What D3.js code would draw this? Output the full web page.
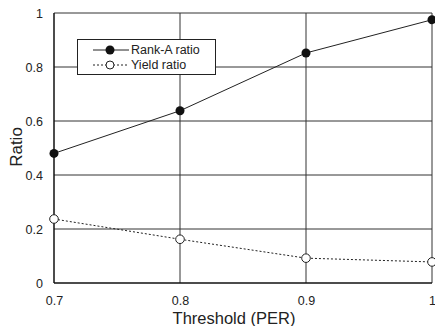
<!DOCTYPE html>
<html><head><meta charset="utf-8">
<script src="https://cdn.jsdelivr.net/npm/d3@7"></script>
<style>body{margin:0;background:#fff}svg{display:block}text{font-family:"Liberation Sans",Arial,sans-serif;fill:#222}</style>
</head><body><svg id="c" width="435" height="326"></svg>
<script>
const thresholds = [0.7, 0.8, 0.9, 1.0];
const rankA = [0.48, 0.638, 0.852, 0.975];
const yieldRatio = [0.237, 0.162, 0.092, 0.078];
const xTicks = [0.7, 0.8, 0.9, 1];
const yTicks = [0, 0.2, 0.4, 0.6, 0.8, 1];
const seriesNames = ["Rank-A ratio", "Yield ratio"];

const svg = d3.select("#c");
const L = 54, R = 432, T = 13, B = 283;
const x = d3.scaleLinear().domain([0.7, 1]).range([L, R]);
const y = d3.scaleLinear().domain([0, 1]).range([B, T]);

// gridlines
svg.append("g").selectAll("line").data(yTicks.slice(1)).join("line")
  .attr("x1", L).attr("x2", R).attr("y1", d => y(d)).attr("y2", d => y(d))
  .attr("stroke", "#333").attr("stroke-width", 1);
svg.append("g").selectAll("line").data(xTicks.slice(1)).join("line")
  .attr("y1", T).attr("y2", B).attr("x1", d => x(d)).attr("x2", d => x(d))
  .attr("stroke", "#333").attr("stroke-width", 1);

// axes frame
svg.append("line").attr("x1", L).attr("x2", L).attr("y1", T).attr("y2", B).attr("stroke", "#111").attr("stroke-width", 1.5);
svg.append("line").attr("x1", L).attr("x2", R).attr("y1", B).attr("y2", B).attr("stroke", "#111").attr("stroke-width", 1.5);

// y tick labels
const yAxis = d3.axisLeft(y).tickValues(yTicks).tickSize(0).tickPadding(11).tickFormat(d3.format("~g"));
const ya = svg.append("g").attr("transform", `translate(${L},0)`).call(yAxis);
ya.select(".domain").remove();
ya.selectAll("text").style("font-size", "12.5px").attr("fill", "#222");

const xAxis = d3.axisBottom(x).tickValues(xTicks).tickSize(0).tickPadding(13).tickFormat(d3.format("~g"));
const xa = svg.append("g").attr("transform", `translate(0,${B})`).call(xAxis);
xa.select(".domain").remove();
xa.selectAll("text").style("font-size", "12.5px").attr("fill", "#222");

// titles
svg.append("text").attr("x", 234).attr("y", 324).attr("text-anchor", "middle")
  .style("font-size", "16.5px").text("Threshold (PER)");
svg.append("text").attr("transform", "translate(22,147) rotate(-90)").attr("text-anchor", "middle")
  .style("font-size", "17px").text("Ratio");

const line = d3.line().x((d, i) => x(thresholds[i])).y(d => y(d));
svg.append("path").datum(rankA).attr("d", line).attr("fill", "none").attr("stroke", "#222").attr("stroke-width", 1);
svg.append("path").datum(yieldRatio).attr("d", line).attr("fill", "none").attr("stroke", "#222").attr("stroke-width", 1).attr("stroke-dasharray", "2,2");

svg.append("g").selectAll("circle").data(rankA).join("circle")
  .attr("cx", (d, i) => x(thresholds[i])).attr("cy", d => y(d)).attr("r", 4.5).attr("fill", "#111");
svg.append("g").selectAll("circle").data(yieldRatio).join("circle")
  .attr("cx", (d, i) => x(thresholds[i])).attr("cy", d => y(d)).attr("r", 4.3).attr("fill", "#fff").attr("stroke", "#222").attr("stroke-width", 1);

// legend
const lg = svg.append("g");
lg.append("rect").attr("x", 77.5).attr("y", 39.5).attr("width", 138).attr("height", 35).attr("fill", "#fff").attr("stroke", "#222").attr("stroke-width", 1);
const rows = [50, 65];
seriesNames.forEach((name, i) => {
  lg.append("line").attr("x1", 93).attr("x2", 129).attr("y1", rows[i]).attr("y2", rows[i])
    .attr("stroke", "#222").attr("stroke-width", 1).attr("stroke-dasharray", i ? "2,2" : null);
  if (i === 0) lg.append("circle").attr("cx", 110).attr("cy", rows[i]).attr("r", 4.5).attr("fill", "#111");
  else lg.append("circle").attr("cx", 110).attr("cy", rows[i]).attr("r", 4).attr("fill", "#fff").attr("stroke", "#222");
  lg.append("text").attr("x", 131).attr("y", rows[i]).attr("dy", "0.35em").style("font-size", "12.5px").text(name);
});
</script></body></html>
